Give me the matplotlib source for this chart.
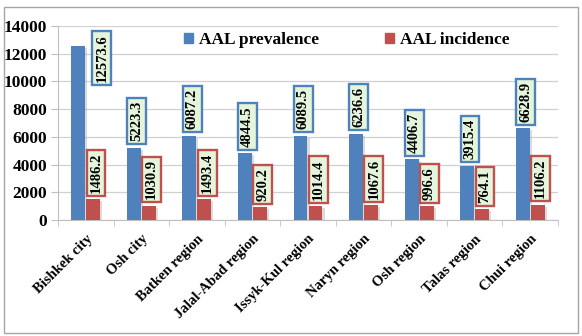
import numpy as np
import matplotlib
matplotlib.use("Agg")
import matplotlib.pyplot as plt
from matplotlib.patches import Patch, Rectangle
import matplotlib.patheffects as pe

plt.rcParams['font.family'] = ['Liberation Serif', 'DejaVu Serif']
plt.rcParams['font.weight'] = 'bold'

# AAL prevalence / incidence by region
categories = ['Bishkek city', 'Osh city', 'Batken region', 'Jalal-Abad region',
              'Issyk-Kul region', 'Naryn region', 'Osh region', 'Talas region',
              'Chui region']
prevalence = [12573.6, 5223.3, 6087.2, 4844.5, 6089.5, 6236.6, 4406.7, 3915.4, 6628.9]
incidence = [1486.2, 1030.9, 1493.4, 920.2, 1014.4, 1067.6, 996.6, 764.1, 1106.2]

blue = '#4F81BD'
red = '#C0504D'
box_fill = '#E4F5DC'

fig = plt.figure(figsize=(5.82, 3.36), dpi=100)
ax = fig.add_axes([58/582, 1-220/336, 500/582, 194/336])

x = np.arange(len(categories))
w = 0.25
shadow = [pe.SimplePatchShadow(offset=(1.5, -1.5), shadow_rgbFace='#999999', alpha=0.35), pe.Normal()]
b1 = ax.bar(x - 0.135, prevalence, w, color=blue, zorder=3, path_effects=shadow)
b2 = ax.bar(x + 0.135, incidence, w, color=red, zorder=3, path_effects=shadow)

def box_label(xp, yp, val, edge, va='bottom', dy=4.5):
    ax.annotate(f'{val:.1f}', (xp, yp), xytext=(2, dy if va == 'bottom' else -dy),
                textcoords='offset points', rotation=90, ha='center', va=va,
                fontsize=10.5, fontweight='bold', zorder=5,
                bbox=dict(boxstyle='square,pad=0.2', fc=box_fill, ec=edge, lw=1.7))

for i, v in enumerate(prevalence):
    if i == 0:
        box_label(x[i] + 0.24, 13700, v, blue, va='top', dy=3)
    else:
        box_label(x[i] - 0.135, v, v, blue)
for i, v in enumerate(incidence):
    box_label(x[i] + 0.135, v, v, red)

ax.set_ylim(0, 14000)
ax.set_xlim(-0.5, len(categories) - 0.5)
ax.set_yticks(np.arange(0, 14001, 2000))
ax.yaxis.grid(True, color='#D0D0D0', lw=0.9, zorder=0)
ax.set_axisbelow(True)
for s in ['top', 'right']:
    ax.spines[s].set_visible(False)
for s in ['left', 'bottom']:
    ax.spines[s].set_color('#BFBFBF')
ax.tick_params(axis='y', length=5, color='#BFBFBF', labelsize=12.5, pad=3)
ax.set_xticks(x)
ax.set_xticklabels(categories, rotation=45, ha='right', rotation_mode='anchor', fontsize=10.5)
ax.tick_params(axis='x', which='major', length=0, pad=9)
ax.set_xticks(np.arange(-0.5, len(categories), 1), minor=True)
ax.tick_params(axis='x', which='minor', length=4, color='#BFBFBF')
for lab in ax.get_yticklabels() + ax.get_xticklabels():
    lab.set_fontweight('bold')

handles = [Patch(color=blue, label='AAL prevalence'), Patch(color=red, label='AAL incidence')]
ax.legend(handles=handles, loc='center', bbox_to_anchor=(0.578, 0.928), ncol=2,
          frameon=False, prop={'weight': 'bold', 'size': 12.5},
          handlelength=0.5, handleheight=0.5, handletextpad=0.35, columnspacing=3.8)

fig.patches.append(Rectangle((4/582, 3/336), 574/582, 326/336, transform=fig.transFigure,
                             fill=False, ec='#A6A6A6', lw=1.0))

fig.savefig('out.png', dpi=100)
